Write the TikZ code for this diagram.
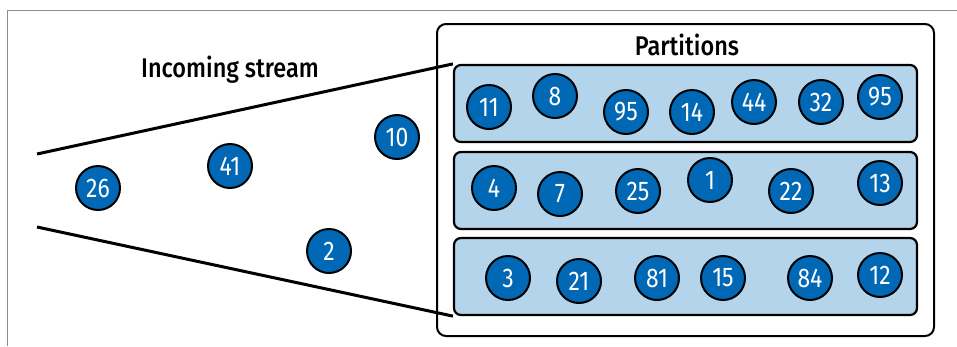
\documentclass[tikz,border=0pt]{standalone}
\usepackage{fontspec}
\setmainfont{Fira Sans Medium}[FakeStretch=0.87]
\newfontfamily\itemfont{Fira Sans}[FakeStretch=0.85]
\usetikzlibrary{positioning}
\definecolor{itemblue}{HTML}{0068B4}
\definecolor{partfill}{HTML}{B3D4EA}
\definecolor{framegray}{HTML}{8C8C8C}

\begin{document}
\begin{tikzpicture}[x=1pt, y=-1pt,
  item/.style={circle, draw=black, line width=2pt, fill=itemblue, minimum size=44pt, inner sep=0pt, text=white, font=\itemfont\fontsize{27}{27}\selectfont},
  partbox/.style={rectangle, draw=black, line width=2.2pt, rounded corners=7pt, fill=partfill, minimum width=463pt, minimum height=77pt},
  outerbox/.style={rectangle, draw=black, line width=2pt, rounded corners=9pt, minimum width=497pt, minimum height=312pt},
  title/.style={font=\fontsize{27}{27}\selectfont},
  funnel/.style={line width=3pt, black}
]
  \useasboundingbox (0,0) rectangle (957,346);
  % page frame
  \draw[framegray, line width=1pt] (7,346) -- (7,10) -- (957,10);

  % partitions
  \node[outerbox] (parts) at (685.5,180) {};
  \node[title] (partlbl) at (687,45) {Partitions};
  \node[partbox] (row1) at (685.5,103.5) {};
  \node[partbox] (row2) at (685.5,190.5) {};
  \node[partbox] (row3) at (685.5,276.5) {};

  % incoming stream
  \node[title] (streamlbl) at (230,70) {Incoming stream};
  \coordinate (mouthtop) at (37,154);
  \coordinate (mouthbot) at (37,227);
  \draw[funnel] (mouthtop) -- (row1.north west);
  \draw[funnel] (mouthbot) -- (row3.south west);

  \node[item] (s26) at (98,188) {26};
  \node[item] (s41) at (230,166) {41};
  \node[item] (s10) at (397,137) {10};
  \node[item] (s2) at (329,251) {2};

  % partition 1
  \node[item] (a11) at (489,107) {11};
  \node[item] (a8) at (555,96) {8};
  \node[item] (a95) at (626,112) {95};
  \node[item] (a14) at (692,112) {14};
  \node[item] (a44) at (754,102) {44};
  \node[item] (a32) at (821,102) {32};
  \node[item] (a95b) at (880,97) {95};

  % partition 2
  \node[item] (b4) at (494,188) {4};
  \node[item] (b7) at (560,194) {7};
  \node[item] (b25) at (638,191) {25};
  \node[item] (b1) at (710,180) {1};
  \node[item] (b22) at (791,191) {22};
  \node[item] (b13) at (880,183) {13};

  % partition 3
  \node[item] (c3) at (508,278) {3};
  \node[item] (c21) at (579,281) {21};
  \node[item] (c81) at (657,278) {81};
  \node[item] (c15) at (723,278) {15};
  \node[item] (c84) at (810,278) {84};
  \node[item] (c12) at (880,275) {12};
\end{tikzpicture}
\end{document}
